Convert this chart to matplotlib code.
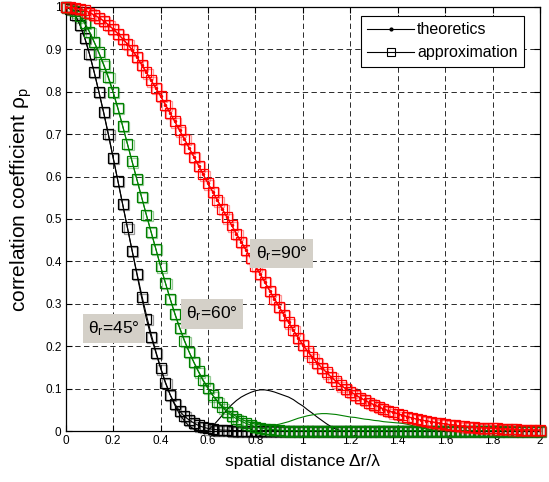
import numpy as np
import matplotlib
matplotlib.use("Agg")
import matplotlib.pyplot as plt
from matplotlib.lines import Line2D
from matplotlib import transforms

plt.rcParams['font.family'] = ['Liberation Sans', 'DejaVu Sans']
plt.rcParams['mathtext.fontset'] = 'custom'
plt.rcParams['mathtext.rm'] = 'Liberation Sans'
plt.rcParams['mathtext.it'] = 'Liberation Sans:italic'

# ---------------- data ----------------
distance = np.round(np.arange(101) * 0.02, 2)   # spatial distance Δr/λ

black_theory = [1.000, 0.995, 0.981, 0.958, 0.927, 0.889, 0.846, 0.799, 0.750, 0.698,
                0.644, 0.590, 0.535, 0.480, 0.426, 0.373, 0.322, 0.274, 0.229, 0.188,
                0.150, 0.116, 0.086, 0.061, 0.040, 0.024, 0.012, 0.005, 0.001, 0.000,
                0.002, 0.012, 0.024, 0.037, 0.050, 0.062, 0.072, 0.080, 0.086, 0.091,
                0.095, 0.097, 0.097, 0.095, 0.092, 0.088, 0.084, 0.080, 0.074, 0.066,
                0.059, 0.050, 0.042, 0.033, 0.025, 0.017, 0.010, 0.004, 0.001, 0.000,
                0.000, 0.000, 0.000, 0.000, 0.000, 0.000, 0.000, 0.000, 0.000, 0.000,
                0.000, 0.000, 0.000, 0.000, 0.000, 0.000, 0.000, 0.000, 0.000, 0.000,
                0.000, 0.000, 0.000, 0.000, 0.000, 0.000, 0.000, 0.000, 0.000, 0.000,
                0.000, 0.000, 0.000, 0.000, 0.000, 0.000, 0.000, 0.000, 0.000, 0.000,
                0.000]

black_approx = [1.000, 0.995, 0.981, 0.958, 0.928, 0.890, 0.847, 0.800, 0.752, 0.700,
                0.645, 0.590, 0.535, 0.480, 0.425, 0.370, 0.315, 0.265, 0.222, 0.185,
                0.148, 0.114, 0.086, 0.064, 0.047, 0.035, 0.026, 0.019, 0.013, 0.009,
                0.006, 0.004, 0.003, 0.002, 0.002, 0.001, 0.001, 0.001, 0.001, 0.001,
                0.001, 0.001, 0.001, 0.001, 0.001, 0.001, 0.001, 0.001, 0.001, 0.001,
                0.001, 0.001, 0.001, 0.001, 0.001, 0.001, 0.001, 0.001, 0.001, 0.001,
                0.001, 0.001, 0.001, 0.001, 0.001, 0.001, 0.001, 0.001, 0.001, 0.001,
                0.001, 0.001, 0.001, 0.001, 0.001, 0.001, 0.001, 0.001, 0.001, 0.001,
                0.001, 0.001, 0.001, 0.001, 0.001, 0.001, 0.001, 0.001, 0.001, 0.001,
                0.001, 0.001, 0.001, 0.001, 0.001, 0.001, 0.001, 0.001, 0.001, 0.001,
                0.001]

green_theory = [1.000, 0.997, 0.990, 0.978, 0.962, 0.941, 0.917, 0.891, 0.863, 0.832,
                0.798, 0.760, 0.719, 0.677, 0.635, 0.593, 0.551, 0.510, 0.469, 0.429,
                0.389, 0.350, 0.313, 0.278, 0.245, 0.215, 0.187, 0.162, 0.139, 0.118,
                0.100, 0.084, 0.071, 0.059, 0.049, 0.041, 0.034, 0.028, 0.023, 0.019,
                0.016, 0.014, 0.013, 0.013, 0.014, 0.016, 0.019, 0.022, 0.026, 0.030,
                0.033, 0.036, 0.038, 0.040, 0.041, 0.041, 0.040, 0.039, 0.037, 0.035,
                0.033, 0.032, 0.030, 0.028, 0.027, 0.025, 0.024, 0.022, 0.021, 0.020,
                0.019, 0.018, 0.016, 0.013, 0.010, 0.007, 0.005, 0.003, 0.002, 0.001,
                0.000, 0.000, 0.000, 0.000, 0.000, 0.000, 0.000, 0.000, 0.000, 0.000,
                0.000, 0.000, 0.000, 0.000, 0.000, 0.000, 0.000, 0.000, 0.000, 0.000,
                0.000]

green_approx = [1.000, 0.997, 0.990, 0.978, 0.962, 0.942, 0.918, 0.893, 0.865, 0.835,
                0.800, 0.762, 0.720, 0.678, 0.636, 0.594, 0.552, 0.510, 0.470, 0.430,
                0.388, 0.350, 0.312, 0.276, 0.243, 0.213, 0.187, 0.163, 0.141, 0.120,
                0.102, 0.084, 0.069, 0.056, 0.045, 0.036, 0.029, 0.023, 0.018, 0.014,
                0.010, 0.007, 0.005, 0.004, 0.003, 0.002, 0.001, 0.001, 0.001, 0.001,
                0.001, 0.001, 0.001, 0.001, 0.001, 0.001, 0.001, 0.001, 0.001, 0.001,
                0.001, 0.001, 0.001, 0.001, 0.001, 0.001, 0.001, 0.001, 0.001, 0.001,
                0.001, 0.001, 0.001, 0.001, 0.001, 0.001, 0.001, 0.001, 0.001, 0.001,
                0.001, 0.001, 0.001, 0.001, 0.001, 0.001, 0.001, 0.001, 0.001, 0.001,
                0.001, 0.001, 0.001, 0.001, 0.001, 0.001, 0.001, 0.001, 0.001, 0.001,
                0.001]

red_approx = [1.000, 0.999, 0.998, 0.995, 0.992, 0.987, 0.981, 0.975, 0.967, 0.958,
              0.948, 0.937, 0.925, 0.913, 0.899, 0.882, 0.864, 0.846, 0.827, 0.809,
              0.790, 0.770, 0.750, 0.730, 0.709, 0.689, 0.668, 0.647, 0.626, 0.605,
              0.584, 0.564, 0.544, 0.524, 0.504, 0.485, 0.465, 0.446, 0.427, 0.408,
              0.389, 0.370, 0.351, 0.331, 0.312, 0.293, 0.274, 0.256, 0.238, 0.220,
              0.203, 0.188, 0.174, 0.161, 0.149, 0.138, 0.127, 0.117, 0.108, 0.100,
              0.093, 0.086, 0.079, 0.073, 0.067, 0.062, 0.057, 0.052, 0.048, 0.044,
              0.041, 0.037, 0.034, 0.031, 0.028, 0.026, 0.024, 0.022, 0.020, 0.018,
              0.017, 0.015, 0.014, 0.012, 0.011, 0.010, 0.009, 0.008, 0.008, 0.007,
              0.006, 0.006, 0.005, 0.005, 0.004, 0.004, 0.003, 0.003, 0.003, 0.002,
              0.002]
red_theory = red_approx  # theory and approximation coincide for 90°

series_colors = ['black', '#008000', '#ff0000']
theory_dots = [0, 0, 3]   # dot size on theory lines (dots only visible on the red curve)
annot_labels = ['θ$_{\\mathregular{r}}$=45°', 'θ$_{\\mathregular{r}}$=60°', 'θ$_{\\mathregular{r}}$=90°']
annot_x = [0.202, 0.615, 0.910]
annot_y = [0.242, 0.276, 0.418]
xtick_vals = [0, 0.2, 0.4, 0.6, 0.8, 1.0, 1.2, 1.4, 1.6, 1.8, 2.0]
xtick_labels = ['0', '0.2', '0.4', '0.6', '0.8', '1', '1.2', '1.4', '1.6', '1.8', '2']
ytick_vals = [0, 0.1, 0.2, 0.3, 0.4, 0.5, 0.6, 0.7, 0.8, 0.9, 1.0]
ytick_labels = ['0', '0.1', '0.2', '0.3', '0.4', '0.5', '0.6', '0.7', '0.8', '0.9', '1']

# ---------------- figure ----------------
fig = plt.figure(figsize=(5.49, 4.82), dpi=100)
ax = fig.add_axes([0.1197, 0.1058, 0.8639, 0.8797])

ghost = transforms.offset_copy(ax.transData, fig=fig, x=1.3, y=-1.3, units='dots')

theories = [black_theory, green_theory, red_theory]
approxes = [black_approx, green_approx, red_approx]
for th, ap, c, dot in zip(theories, approxes, series_colors, theory_dots):
    ax.plot(distance, th, '-', color=c, lw=0.8, marker='.' if dot else None,
            ms=dot, zorder=3)
    ax.plot(distance, ap, '-', color=c, lw=0.8, marker='s', ms=7.0, mfc='none',
            mew=0.9, clip_on=False, zorder=3)
    ax.plot(distance, ap, ls='none', color=c, marker='s', ms=7.0, mfc='none',
            mew=0.9, alpha=0.4, clip_on=False, zorder=3, transform=ghost)

ax.set_xlim(0, 2)
ax.set_ylim(0, 1)
ax.set_xticks(xtick_vals)
ax.set_xticklabels(xtick_labels)
ax.set_yticks(ytick_vals)
ax.set_yticklabels(ytick_labels)
ax.tick_params(direction='in', top=True, right=True, length=4, width=0.8,
               labelsize=8.5, pad=3)
ax.grid(True, ls=(0, (5.5, 3.5)), color='#2a2a2a', lw=0.7)
ax.set_axisbelow(True)
for s in ax.spines.values():
    s.set_linewidth(0.9)

ax.set_xlabel('spatial distance Δr/λ', fontsize=12.5, labelpad=5)
ax.set_ylabel('correlation coefficient ρ$_{\\mathregular{p}}$', fontsize=15)
ax.yaxis.set_label_coords(-0.066, 0.545)

for lab, tx, ty in zip(annot_labels, annot_x, annot_y):
    ax.text(tx, ty, lab, ha='center', va='center', fontsize=12.5, zorder=4,
            bbox=dict(boxstyle='square,pad=0.3', fc='#d4d0c8', ec='none'))

handles = [Line2D([], [], color='black', lw=0.8, marker='.', ms=4),
           Line2D([], [], color='black', lw=0.8, marker='s', ms=5.5, mfc='none', mew=0.8)]
leg = ax.legend(handles, ['theoretics', 'approximation'], loc='upper right',
                bbox_to_anchor=(0.966, 0.979), borderaxespad=0, fancybox=False,
                edgecolor='black', framealpha=1, fontsize=11.5, handlelength=2.9,
                handletextpad=0.2, borderpad=0.4, labelspacing=0.5)
leg.get_frame().set_linewidth(0.8)

fig.savefig('out.png', dpi=100)
